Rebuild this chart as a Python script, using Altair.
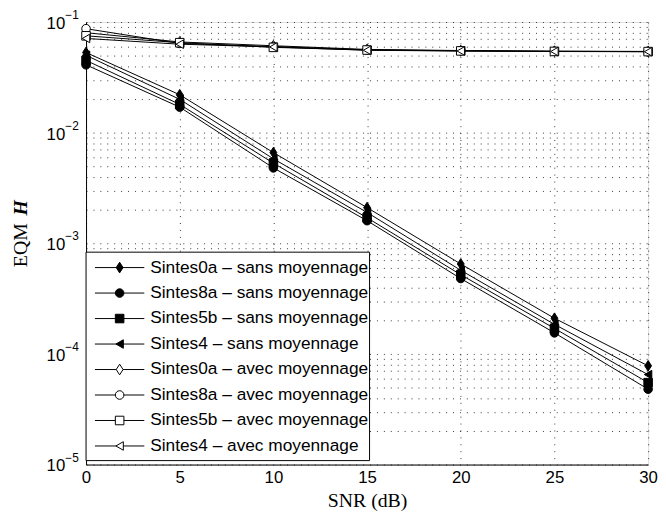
import altair as alt
import pandas as pd

snr = [0, 5, 10, 15, 20, 25, 30]
names = [
    "Sintes0a \u2013 sans moyennage",
    "Sintes8a \u2013 sans moyennage",
    "Sintes5b \u2013 sans moyennage",
    "Sintes4 \u2013 sans moyennage",
    "Sintes0a \u2013 avec moyennage",
    "Sintes8a \u2013 avec moyennage",
    "Sintes5b \u2013 avec moyennage",
    "Sintes4 \u2013 avec moyennage",
]
s0a_sans = [0.053, 0.022, 0.0066, 0.0021, 0.00065, 0.00021, 0.000078]
s8a_sans = [0.041, 0.017, 0.0048, 0.0016, 0.00048, 0.000155, 0.000048]
s5b_sans = [0.045, 0.018, 0.0053, 0.0017, 0.00052, 0.00017, 0.000055]
s4_sans = [0.050, 0.020, 0.0058, 0.0019, 0.00057, 0.000185, 0.000065]
s0a_avec = [0.080, 0.066, 0.061, 0.0565, 0.0552, 0.0545, 0.0542]
s8a_avec = [0.087, 0.064, 0.060, 0.0560, 0.0550, 0.0543, 0.0540]
s5b_avec = [0.075, 0.065, 0.059, 0.0558, 0.0548, 0.0542, 0.0540]
s4_avec = [0.071, 0.063, 0.0595, 0.0555, 0.0547, 0.0541, 0.0539]
series_vals = [s0a_sans, s8a_sans, s5b_sans, s4_sans, s0a_avec, s8a_avec, s5b_avec, s4_avec]

ytick_vals = [1e-5, 1e-4, 1e-3, 1e-2, 1e-1]
ytick_exp = ["\u22125", "\u22124", "\u22123", "\u22122", "\u22121"]

diamond = "M0,-1.25L0.8,0L0,1.25L-0.8,0Z"
shapes = [diamond, "circle", "square", "triangle-left"] * 2
fills = ["black"] * 4 + ["white"] * 4

rows = []
for i, (n, vals) in enumerate(zip(names, series_vals)):
    for x, v in zip(snr, vals):
        rows.append({"series": n, "snr": x, "val": v, "shape": shapes[i], "fillc": fills[i], "idx": i})
df = pd.DataFrame(rows)
leg = pd.DataFrame({"series": names, "shape": shapes, "fillc": fills, "idx": list(range(8))})
one = pd.DataFrame({"a": [0]})
ylab = pd.DataFrame({"val": ytick_vals, "exp": ytick_exp})

yvals = []
for k in range(-5, -1):
    for m in range(1, 10):
        yvals.append(m * 10 ** k)
yvals.append(0.1)

W, H = 569, 448
grid_kw = dict(grid=True, gridDash=[1, 6], gridColor="#222222", gridOpacity=0.9, ticks=False,
               domainColor="black")
xenc = alt.X("snr:Q", scale=alt.Scale(domain=[0, 30], nice=False),
             axis=alt.Axis(values=snr, title="SNR (dB)",
                           labelFontSize=17, labelFont="Liberation Sans", labelColor="black",
                           labelPadding=5, titleFont="Liberation Serif", titleFontSize=20,
                           titleFontWeight="normal", titleColor="black", titlePadding=5,
                           labelFlush=False, **grid_kw))
yenc = alt.Y("val:Q", scale=alt.Scale(type="log", domain=[1e-5, 0.1], nice=False),
             axis=alt.Axis(values=yvals, title=None, labels=False, **grid_kw))

base = alt.Chart(df)
lines = base.mark_line(color="black", strokeWidth=1).encode(
    x=xenc, y=yenc, detail="series:N", order="snr:Q")
pts = base.mark_point(filled=False, stroke="black", strokeWidth=1, size=75, opacity=1).encode(
    x="snr:Q", y="val:Q",
    shape=alt.Shape("shape:N", scale=None),
    fill=alt.Fill("fillc:N", scale=None))

ylab_base = alt.Chart(ylab)
ylab10 = ylab_base.mark_text(text="10", align="right", baseline="middle", fontSize=17,
                             font="Liberation Sans", color="black", dy=2).encode(
    x=alt.value(-21), y="val:Q")
ylabexp = ylab_base.mark_text(align="left", baseline="middle", fontSize=12,
                              font="Liberation Sans", color="black", dy=-7).encode(
    x=alt.value(-21), y="val:Q", text="exp:N")

box = alt.Chart(one).mark_rect(fill="white", stroke="black", strokeWidth=1).encode(
    x=alt.value(0), x2=alt.value(287), y=alt.value(233), y2=alt.value(444))

lb = alt.Chart(leg).transform_calculate(py="248.6 + 25.8*datum.idx")
lrule = lb.mark_rule(color="black", strokeWidth=1).encode(
    x=alt.value(9), x2=alt.value(59), y=alt.Y("py:Q", scale=None))
lpts = lb.mark_point(filled=False, stroke="black", strokeWidth=1, size=75, opacity=1).encode(
    x=alt.value(34), y=alt.Y("py:Q", scale=None),
    shape=alt.Shape("shape:N", scale=None),
    fill=alt.Fill("fillc:N", scale=None))
ltxt = lb.mark_text(align="left", baseline="middle", fontSize=17.5, font="Liberation Sans",
                    color="black").encode(
    x=alt.value(65), y=alt.Y("py:Q", scale=None), text="series:N")

ytitle1 = alt.Chart(one).mark_text(text="EQM", angle=270, fontSize=20, font="Liberation Serif",
                                   color="black", baseline="middle", align="center").encode(
    x=alt.value(-66), y=alt.value(226))
ytitle2 = alt.Chart(one).mark_text(text="H", angle=270, fontSize=20, font="Liberation Serif",
                                   fontStyle="italic", fontWeight="bold", color="black",
                                   baseline="middle", align="center").encode(
    x=alt.value(-66), y=alt.value(188))

chart = alt.layer(lines, pts, ylab10, ylabexp, box, lrule, lpts, ltxt, ytitle1, ytitle2).properties(
    width=W, height=H, autosize=alt.AutoSizeParams(type="none"),
    padding={"left": 79, "top": 11, "right": 10, "bottom": 56}
).configure_view(stroke="black", strokeWidth=1).configure(background="white")

chart.save("out.html", embed_options={"renderer": "svg", "actions": False})
